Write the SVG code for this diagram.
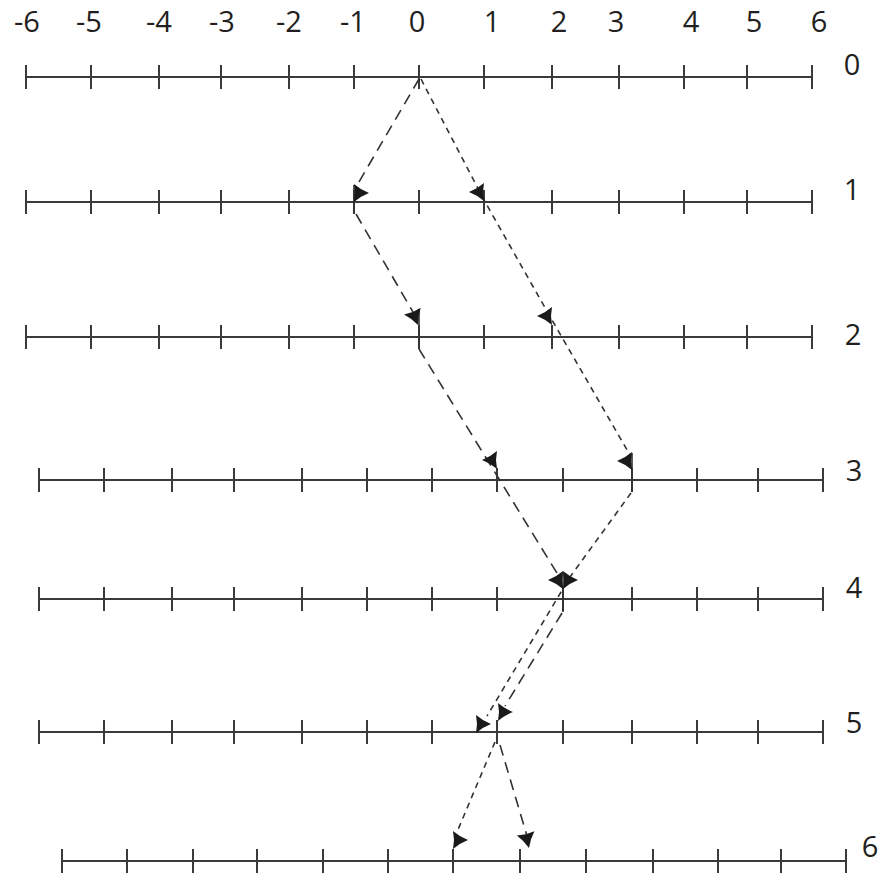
<svg xmlns="http://www.w3.org/2000/svg" width="894" height="873" viewBox="0 0 894 873">
<style>
.ax{stroke:#3a3a3a;stroke-width:2;fill:none}
.tk{stroke:#3a3a3a;stroke-width:2}
.lbl{font-family:"Open Sans","Liberation Sans",sans-serif;font-size:29px;fill:#231f20;text-anchor:middle}
.ld{stroke:#333;stroke-width:1.6;fill:none;stroke-dasharray:11 7}
.sd{stroke:#333;stroke-width:1.6;fill:none;stroke-dasharray:6 5}
.st{stroke:#333;stroke-width:1.6;fill:none}
.ah{fill:#1a1a1a}
</style>
<defs>
<path id="head" d="M0,0 Q-8,-3 -15,-9 L-14,0 L-15,9 Q-8,3 0,0 Z"/>
</defs>
<g id="top-labels">
<text class="lbl" x="27" y="32">-6</text>
<text class="lbl" x="89" y="32">-5</text>
<text class="lbl" x="159" y="32">-4</text>
<text class="lbl" x="222" y="32">-3</text>
<text class="lbl" x="289" y="32">-2</text>
<text class="lbl" x="353" y="32">-1</text>
<text class="lbl" x="417" y="32">0</text>
<text class="lbl" x="492" y="32">1</text>
<text class="lbl" x="559" y="32">2</text>
<text class="lbl" x="616" y="32">3</text>
<text class="lbl" x="691" y="32">4</text>
<text class="lbl" x="754" y="32">5</text>
<text class="lbl" x="819" y="32">6</text>
</g>
<g id="row0">
<line class="ax" x1="26" y1="77" x2="812" y2="77"/>
<path class="tk" d="M26,65v24M91,65v24M159,65v24M221,65v24M289,65v24M354,65v24M419,65v24M484,65v24M552,65v24M619,65v24M684,65v24M747,65v24M812,65v24"/>
<text class="lbl" x="852" y="75">0</text>
</g>
<g id="row1">
<line class="ax" x1="26" y1="202" x2="812" y2="202"/>
<path class="tk" d="M26,190v24M91,190v24M159,190v24M221,190v24M289,190v24M354,190v24M419,190v24M484,190v24M552,190v24M619,190v24M684,190v24M747,190v24M812,190v24"/>
<text class="lbl" x="852" y="200">1</text>
</g>
<g id="row2">
<line class="ax" x1="26" y1="337" x2="812" y2="337"/>
<path class="tk" d="M26,325v24M91,325v24M159,325v24M221,325v24M289,325v24M354,325v24M419,325v24M484,325v24M552,325v24M619,325v24M684,325v24M747,325v24M812,325v24"/>
<text class="lbl" x="853" y="345">2</text>
</g>
<g id="row3">
<line class="ax" x1="39" y1="480" x2="823" y2="480"/>
<path class="tk" d="M39,468v24M104,468v24M172,468v24M234,468v24M302,468v24M367,468v24M432,468v24M497,468v24M563,468v24M632,468v24M697,468v24M758,468v24M823,468v24"/>
<text class="lbl" x="854" y="481">3</text>
</g>
<g id="row4">
<line class="ax" x1="39" y1="599" x2="823" y2="599"/>
<path class="tk" d="M39,587v24M104,587v24M172,587v24M234,587v24M302,587v24M367,587v24M432,587v24M497,587v24M563,587v24M632,587v24M697,587v24M758,587v24M823,587v24"/>
<text class="lbl" x="854" y="598">4</text>
</g>
<g id="row5">
<line class="ax" x1="39" y1="732" x2="823" y2="732"/>
<path class="tk" d="M39,720v24M104,720v24M172,720v24M234,720v24M302,720v24M367,720v24M432,720v24M497,720v24M563,720v24M632,720v24M697,720v24M758,720v24M823,720v24"/>
<text class="lbl" x="854" y="733">5</text>
</g>
<g id="row6">
<line class="ax" x1="62" y1="861" x2="846" y2="861"/>
<path class="tk" d="M62,849v24M127,849v24M193,849v24M257,849v24M323,849v24M388,849v24M453,849v24M520,849v24M586,849v24M653,849v24M718,849v24M781,849v24M846,849v24"/>
<text class="lbl" x="870" y="857">6</text>
</g>
<g id="connectors">
<path class="ld" d="M419,79 L356,187"/>
<path class="st" d="M354,185 V214"/>
<path class="ld" d="M356,214 L413,312"/>
<path class="st" d="M419,309 V348"/>
<path class="ld" d="M419,349 L560,578"/>
<path class="st" d="M563,572 V612"/>
<path class="ld" d="M562,613 L505,706"/>
<path class="ld" d="M500,745 L527,836"/>
<path class="sd" d="M421,79 L484,200 L552,320 L630,455"/>
<path class="st" d="M632,453 V492"/>
<path class="sd" d="M631,493 L570,577 L487,716"/>
<path class="sd" d="M495,742 L457,832"/>
<use href="#head" class="ah" transform="translate(369,193)"/>
<use href="#head" class="ah" transform="translate(469,192) rotate(180)"/>
<use href="#head" class="ah" transform="translate(418,325) rotate(68)"/>
<use href="#head" class="ah" transform="translate(537,316) rotate(180)"/>
<use href="#head" class="ah" transform="translate(482,460) rotate(180)"/>
<use href="#head" class="ah" transform="translate(617,461) rotate(180)"/>
<use href="#head" class="ah" transform="translate(548,580) rotate(180)"/>
<use href="#head" class="ah" transform="translate(578,580)"/>
<use href="#head" class="ah" transform="translate(491,724)"/>
<use href="#head" class="ah" transform="translate(513,712)"/>
<use href="#head" class="ah" transform="translate(468,840)"/>
<use href="#head" class="ah" transform="translate(529,848) rotate(77)"/>
</g>
</svg>
